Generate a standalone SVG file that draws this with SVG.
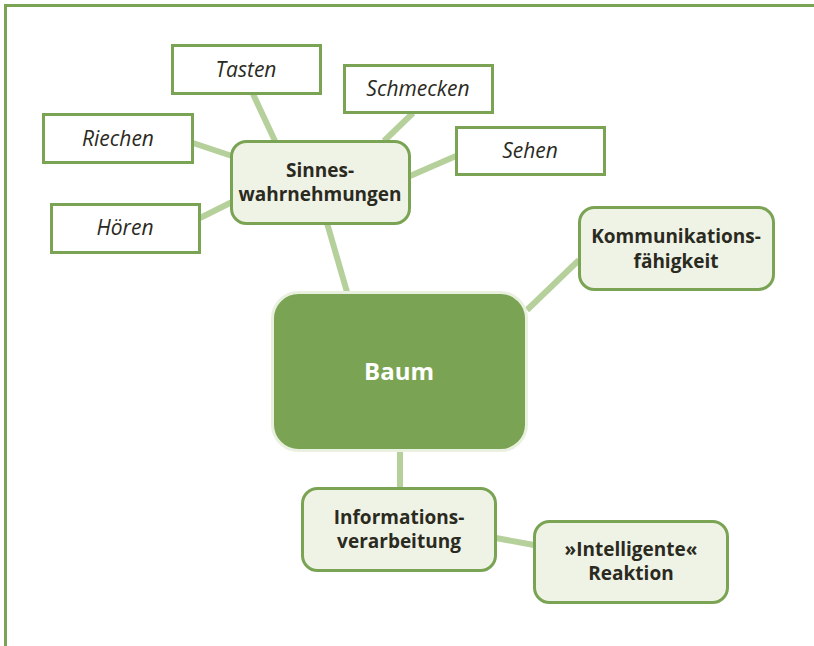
<svg xmlns="http://www.w3.org/2000/svg" width="814" height="646" viewBox="0 0 814 646">
<style>
.frame{stroke:#7aa453;stroke-width:3;fill:none}
.conn line{stroke:#b6d09b;stroke-width:6;stroke-linecap:butt}
.leaf{fill:#fff;stroke:#7aa453;stroke-width:3}
.mid{fill:#eff3e6;stroke:#7aa453;stroke-width:3}
.core{fill:#7aa453;stroke:#e9f0df;stroke-width:3}
.it{font-family:"Open Sans","Noto Sans",sans-serif;font-style:italic;font-size:21px;fill:#2b2a1e;text-anchor:middle}
.bd{font-family:"Open Sans","Noto Sans",sans-serif;font-weight:bold;font-size:19px;fill:#2b2a1e;text-anchor:middle}
.wt{font-family:"Open Sans","Noto Sans",sans-serif;font-weight:bold;font-size:24px;fill:#fff;text-anchor:middle}
</style>
<path class="frame" d="M5.5,646 V5.5 H814"/>
<g id="connectors" class="conn">
<line x1="253" y1="94" x2="275" y2="141"/>
<line x1="413" y1="113" x2="384" y2="141"/>
<line x1="456" y1="156" x2="410" y2="176"/>
<line x1="193" y1="143" x2="232" y2="156"/>
<line x1="200" y1="218" x2="232" y2="202"/>
<line x1="327" y1="223" x2="347" y2="292"/>
<line x1="579" y1="260" x2="527" y2="310"/>
<line x1="400" y1="450" x2="400" y2="488"/>
<line x1="496" y1="538" x2="534" y2="545"/>
</g>
<g id="tasten"><rect class="leaf" x="172.5" y="45.5" width="148" height="48"/><text class="it" x="246" y="77">Tasten</text></g>
<g id="schmecken"><rect class="leaf" x="344.5" y="65.5" width="148" height="47"/><text class="it" x="418" y="96">Schmecken</text></g>
<g id="sehen"><rect class="leaf" x="456.5" y="127.5" width="148" height="47"/><text class="it" x="530" y="158">Sehen</text></g>
<g id="riechen"><rect class="leaf" x="43.5" y="114.5" width="149" height="48"/><text class="it" x="118" y="146">Riechen</text></g>
<g id="hoeren"><rect class="leaf" x="51.5" y="204.5" width="148" height="48"/><text class="it" x="125" y="235">Hören</text></g>
<g id="sinnes"><rect class="mid" x="231.5" y="141.5" width="178" height="82" rx="15"/><text class="bd" x="320" y="177">Sinnes-</text><text class="bd" x="320" y="201">wahrnehmungen</text></g>
<g id="baum"><rect class="core" x="272.5" y="292.5" width="254" height="158" rx="26"/><text class="wt" x="399" y="380">Baum</text></g>
<g id="kommunikation"><rect class="mid" x="579.5" y="207.5" width="194" height="82" rx="15"/><text class="bd" x="676" y="243">Kommunikations-</text><text class="bd" x="676" y="268">fähigkeit</text></g>
<g id="information"><rect class="mid" x="302.5" y="488.5" width="193" height="82" rx="15"/><text class="bd" x="399" y="524">Informations-</text><text class="bd" x="399" y="548">verarbeitung</text></g>
<g id="reaktion"><rect class="mid" x="534.5" y="521.5" width="193" height="81" rx="15"/><text class="bd" x="631" y="556">»Intelligente«</text><text class="bd" x="631" y="580">Reaktion</text></g>
</svg>
